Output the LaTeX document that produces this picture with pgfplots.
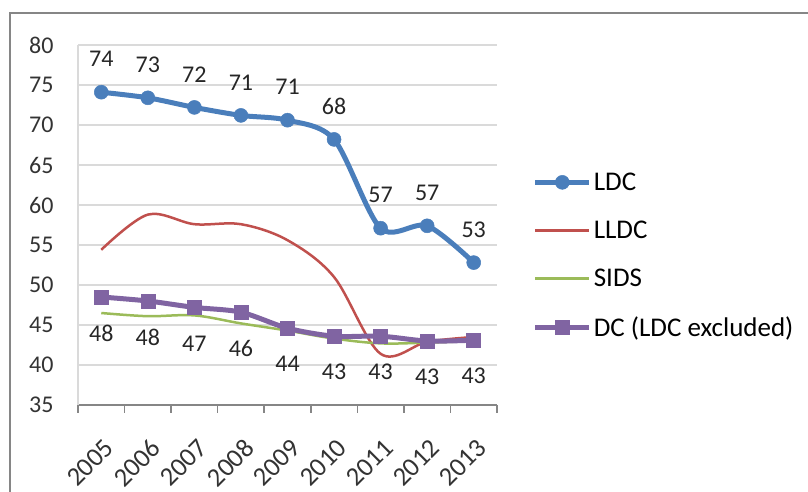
\documentclass[border=0pt]{standalone}
\usepackage{pgfplots}
\pgfplotsset{compat=1.18}
\usepackage{fontspec}
\setmainfont{Carlito}
\definecolor{ldc}{HTML}{4A7EBB}
\definecolor{lldc}{HTML}{C0504D}
\definecolor{sids}{HTML}{9BBB59}
\definecolor{dc}{HTML}{8064A2}
\definecolor{gridc}{HTML}{DADADA}
\definecolor{axc}{HTML}{868686}
\begin{document}
\begin{tikzpicture}
\draw[axc, line width=2pt] (10pt,0pt) -- (10pt,479pt) -- (808pt,479pt);
\begin{axis}[
  at={(78pt,87pt)}, anchor=south west,
  scale only axis, width=419pt, height=360pt,
  xmin=-0.5, xmax=8.5, ymin=35, ymax=80,
  ytick={35,40,...,80},
  xtick={0,...,8},
  xticklabels={2005,2006,2007,2008,2009,2010,2011,2012,2013},
  minor xtick={-0.5,0.5,...,8.5},
  major tick length=0pt,
  minor tick length=8pt,
  tick align=outside,
  separate axis lines,
  axis x line*=bottom,
  axis y line*=left,
  x axis line style={axc, line width=1.5pt, -},
  y axis line style={gridc, line width=1.2pt, -},
  every minor tick/.style={axc, line width=1.5pt},
  ymajorgrids,
  grid style={gridc, line width=1.5pt},
  ticklabel style={font=\fontsize{24}{28}\selectfont, text=black!80},
  /pgf/number format/assume math mode=true,
  yticklabel style={xshift=-21pt},
  xticklabel style={font=\fontsize{26.5}{30}\selectfont, anchor=north east, inner sep=1pt, xshift=2pt, yshift=-31pt, rotate=45},
  legend style={at={(1.085,0.651)}, anchor=north west, draw=none, fill=none,
    font=\fontsize{27}{31}\selectfont, row sep=25pt, inner sep=0pt,
    cells={anchor=west}},
  legend cell align=left,
  legend image code/.code={\draw[mark repeat=2,mark phase=2] plot coordinates {(0pt,0pt) (27pt,0pt) (54pt,0pt)};},
  clip=false,
]
\addplot[ldc, line width=5pt, smooth, tension=0.5, mark=*, mark size=7pt,
  mark options={line width=0.5pt},
  point meta=explicit symbolic, nodes near coords,
  every node near coord/.style={anchor=center, yshift=33pt, font=\fontsize{24}{28}\selectfont, text=black!85}]
  coordinates {(0,74.1)[74] (1,73.4)[73] (2,72.2)[72] (3,71.2)[71] (4,70.6)[71] (5,68.2)[68] (6,57.1)[57] (7,57.4)[57] (8,52.8)[53]};
\addlegendentry{LDC}
\addplot[lldc, line width=2.5pt, smooth, tension=0.55, no marks]
  coordinates {(0,54.4) (1,58.8) (2,57.6) (3,57.6) (4,55.6) (5,51.0) (6,41.4) (7,42.9) (8,43.5)};
\addlegendentry{LLDC}
\addplot[sids, line width=2.5pt, smooth, tension=0.55, no marks]
  coordinates {(0,46.5) (1,46.1) (2,46.2) (3,45.2) (4,44.3) (5,43.3) (6,42.7) (7,42.8) (8,43.0)};
\addlegendentry{SIDS}
\addplot[dc, line width=5pt, smooth, tension=0.5, mark=square*, mark size=7pt,
  mark options={line width=0.5pt},
  point meta=explicit symbolic, nodes near coords,
  every node near coord/.style={anchor=center, yshift=-36pt, font=\fontsize{24}{28}\selectfont, text=black!85}]
  coordinates {(0,48.5)[48] (1,48.0)[48] (2,47.2)[47] (3,46.6)[46] (4,44.6)[44] (5,43.6)[43] (6,43.6)[43] (7,43.0)[43] (8,43.1)[43]};
\addlegendentry{DC (LDC excluded)}
\end{axis}
\pgfresetboundingbox
\path (0pt,0pt) rectangle (808pt,492pt);
\end{tikzpicture}
\end{document}
